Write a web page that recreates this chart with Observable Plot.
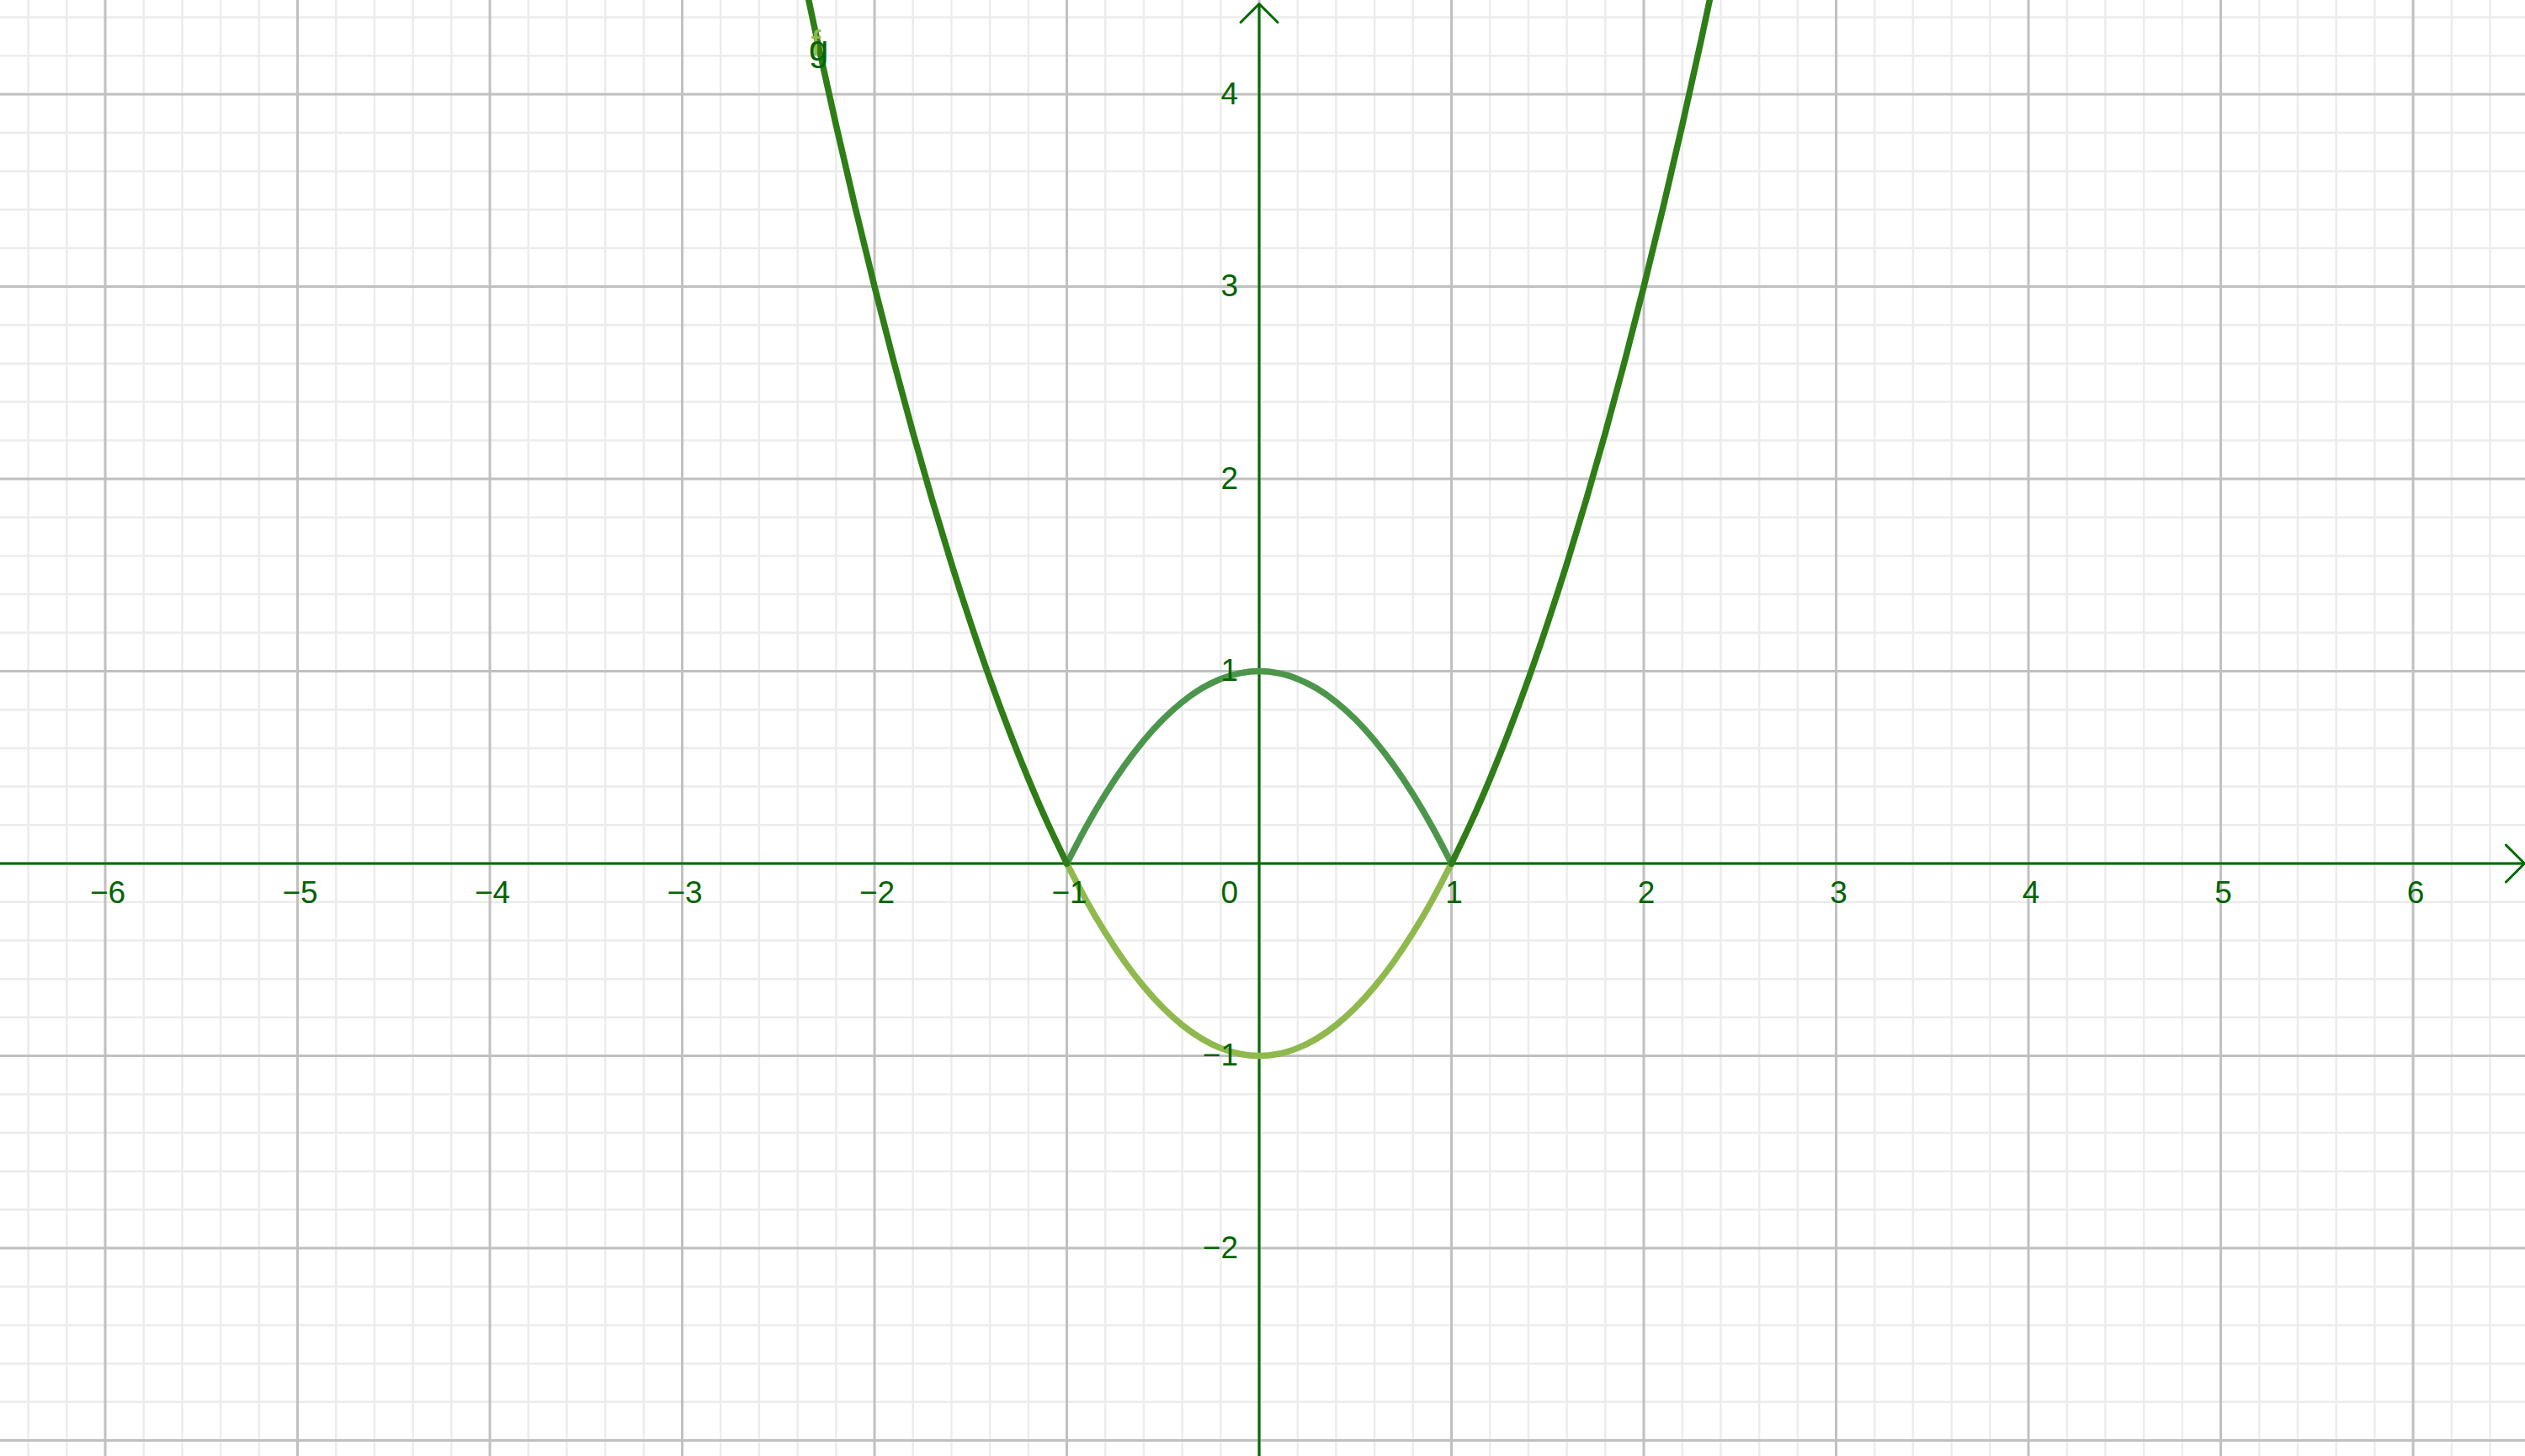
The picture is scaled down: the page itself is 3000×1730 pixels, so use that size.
<!DOCTYPE html>
<html>
<head>
<meta charset="utf-8">
<script src="https://cdn.jsdelivr.net/npm/d3@7"></script>
<script src="https://cdn.jsdelivr.net/npm/@observablehq/plot@0.6"></script>
<style>
  html, body { margin: 0; padding: 0; background: #ffffff; overflow: hidden; }
  #chart svg { display: block; }
</style>
</head>
<body>
<div id="chart"></div>
<script>
// View window (graph units)
const xDomain = [-6.545, 6.584];
const yDomain = [-3.083, 4.488];

// Tick labels
const xTicks = [-6, -5, -4, -3, -2, -1, 1, 2, 3, 4, 5, 6];
const yTicks = [-2, -1, 1, 2, 3, 4];
const xMajor = [-6, -5, -4, -3, -2, -1, 0, 1, 2, 3, 4, 5, 6];
const yMajor = [-3, -2, -1, 0, 1, 2, 3, 4];
const xMinor = d3.range(-64, 66, 2).map(d => d / 10).filter(d => Math.abs(d - Math.round(d)) > 1e-9);
const yMinor = d3.range(-30, 45, 2).map(d => d / 10).filter(d => Math.abs(d - Math.round(d)) > 1e-9);

// Curve g, outer branches (dark green)
const gLeftX  = [-2.5, -2.4, -2.3, -2.2, -2.1, -2.0, -1.9, -1.8, -1.7, -1.6, -1.5, -1.4, -1.3, -1.2, -1.1, -1.0];
const gLeftY  = [5.25, 4.76, 4.29, 3.84, 3.41, 3.0, 2.61, 2.24, 1.89, 1.56, 1.25, 0.96, 0.69, 0.44, 0.21, 0.0];
const gRightX = [1.0, 1.1, 1.2, 1.3, 1.4, 1.5, 1.6, 1.7, 1.8, 1.9, 2.0, 2.1, 2.2, 2.3, 2.4, 2.5];
const gRightY = [0.0, 0.21, 0.44, 0.69, 0.96, 1.25, 1.56, 1.89, 2.24, 2.61, 3.0, 3.41, 3.84, 4.29, 4.76, 5.25];
// Curve g, inner arch (medium green)
const archX = [-1.0, -0.9, -0.8, -0.7, -0.6, -0.5, -0.4, -0.3, -0.2, -0.1, 0.0, 0.1, 0.2, 0.3, 0.4, 0.5, 0.6, 0.7, 0.8, 0.9, 1.0];
const archY = [0.0, 0.19, 0.36, 0.51, 0.64, 0.75, 0.84, 0.91, 0.96, 0.99, 1.0, 0.99, 0.96, 0.91, 0.84, 0.75, 0.64, 0.51, 0.36, 0.19, 0.0];
// Curve f, inner part (light green)
const fX = [-1.0, -0.9, -0.8, -0.7, -0.6, -0.5, -0.4, -0.3, -0.2, -0.1, 0.0, 0.1, 0.2, 0.3, 0.4, 0.5, 0.6, 0.7, 0.8, 0.9, 1.0];
const fY = [0.0, -0.19, -0.36, -0.51, -0.64, -0.75, -0.84, -0.91, -0.96, -0.99, -1.0, -0.99, -0.96, -0.91, -0.84, -0.75, -0.64, -0.51, -0.36, -0.19, 0.0];

const toPts = (xs, ys) => xs.map((x, i) => ({x, y: ys[i]}));
const gLeft = toPts(gLeftX, gLeftY);
const gRight = toPts(gRightX, gRightY);
const arch = toPts(archX, archY);
const fIn = toPts(fX, fY);

const axisColor = "#006b00";
const labelColor = "#006400";
const font = "'Liberation Sans', Arial, sans-serif";
const fontSize = 37;
const fmt = d => (d < 0 ? "\u2212" + Math.abs(d) : String(d));

const chart = Plot.plot({
  width: 3000,
  height: 1730,
  margin: 0,
  x: {domain: xDomain, axis: null},
  y: {domain: yDomain, axis: null},
  style: {background: "#ffffff", fontFamily: font},
  marks: [
    // minor grid
    Plot.ruleX(xMinor, {stroke: "#ececec", strokeWidth: 2.5}),
    Plot.ruleY(yMinor, {stroke: "#ececec", strokeWidth: 2.5}),
    // major grid
    Plot.ruleX(xMajor, {stroke: "#c0c0c0", strokeWidth: 3}),
    Plot.ruleY(yMajor, {stroke: "#c0c0c0", strokeWidth: 3}),
    // axes with arrowheads
    Plot.arrow([{x1: xDomain[0], x2: xDomain[1] - 0.005, y1: 0, y2: 0}], {
      x1: "x1", x2: "x2", y1: "y1", y2: "y2",
      stroke: axisColor, strokeWidth: 3, headLength: 15.5, headAngle: 90
    }),
    Plot.arrow([{x1: 0, x2: 0, y1: yDomain[0], y2: yDomain[1] - 0.018}], {
      x1: "x1", x2: "x2", y1: "y1", y2: "y2",
      stroke: axisColor, strokeWidth: 3, headLength: 15.5, headAngle: 90
    }),
    // curves
    Plot.line(fIn, {x: "x", y: "y", stroke: "#8fb94d", strokeWidth: 7.5, curve: "natural", strokeLinecap: "round"}),
    Plot.line(arch, {x: "x", y: "y", stroke: "#4c964c", strokeWidth: 7.5, curve: "natural", strokeLinecap: "round"}),
    Plot.line(gLeft, {x: "x", y: "y", stroke: "#2e7d16", strokeWidth: 7.5, curve: "natural", strokeLinecap: "round", clip: true}),
    Plot.line(gRight, {x: "x", y: "y", stroke: "#2e7d16", strokeWidth: 7.5, curve: "natural", strokeLinecap: "round", clip: true}),
    // tick labels
    Plot.text(xTicks, {x: d => d, y: 0, text: fmt, dx: 3, dy: 35, fill: labelColor, fontSize, lineAnchor: "middle", textAnchor: "middle"}),
    Plot.text([0], {x: 0, y: 0, text: d => String(d), dx: -25, dy: 35, fill: labelColor, fontSize, lineAnchor: "middle", textAnchor: "end"}),
    Plot.text(yTicks, {x: 0, y: d => d, text: fmt, dx: -25, dy: 0, fill: labelColor, fontSize, lineAnchor: "middle", textAnchor: "end"}),
    // curve labels (f sits mostly hidden behind g, as in the original)
    Plot.text(["f"], {x: -2.305, y: 4.2, text: d => d, fill: "#8fb94d", fontSize: 42, lineAnchor: "bottom", textAnchor: "middle"}),
    Plot.text(["g"], {x: -2.29, y: 4.173, text: d => d, fill: labelColor, fontSize: 42, lineAnchor: "bottom", textAnchor: "middle"})
  ]
});

document.getElementById("chart").appendChild(chart);
</script>
</body>
</html>
